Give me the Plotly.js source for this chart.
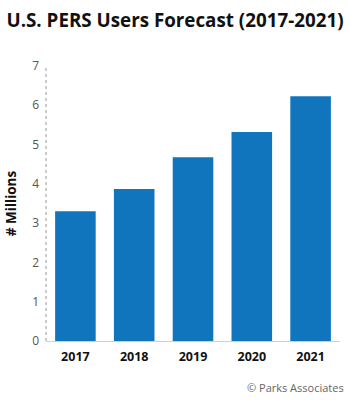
<!DOCTYPE html>
<html>
<head>
<meta charset="utf-8">
<script src="https://cdn.plot.ly/plotly-3.0.1.min.js"></script>
<style>html,body{margin:0;padding:0;background:#fff;}#chart{width:350px;height:400px;}</style>
</head>
<body>
<div id="chart"></div>
<script>
const years = ['2017', '2018', '2019', '2020', '2021'];
const users = [3.3, 3.87, 4.68, 5.32, 6.23];
const yTicks = [0, 1, 2, 3, 4, 5, 6, 7];

const trace = {
  type: 'bar',
  x: years,
  y: users,
  marker: {color: '#1175BD'},
  hoverinfo: 'x+y'
};

const layout = {
  width: 350,
  height: 400,
  margin: {l: 46, r: 10, t: 66, b: 59},
  paper_bgcolor: '#fff',
  plot_bgcolor: '#fff',
  bargap: 0.31,
  showlegend: false,
  title: {
    text: '<b>U.S. PERS Users Forecast (2017-2021)</b>',
    font: {family: 'Open Sans', size: 18.8, color: '#111'},
    x: 0.5, xanchor: 'center', xref: 'container',
    y: 0.95, yanchor: 'middle', yref: 'container'
  },
  xaxis: {
    type: 'category',
    showline: true,
    linecolor: '#d0d0d0',
    linewidth: 1,
    showgrid: false,
    ticks: '',
    tickfont: {family: 'Open Sans', size: 12.5, color: '#111', weight: 'bold'},
    ticklabelstandoff: 4
  },
  yaxis: {
    range: [0, 7],
    tickvals: yTicks,
    showgrid: false,
    zeroline: false,
    showline: false,
    ticks: '',
    tickfont: {family: 'Open Sans', size: 12, color: '#555'},
    ticklabelstandoff: 6,
    title: {
      text: '<b># Millions</b>',
      font: {family: 'Open Sans', size: 13.5, color: '#111'},
      standoff: 12
    }
  },
  shapes: [{
    type: 'line', xref: 'paper', yref: 'paper',
    x0: 0, x1: 0, y0: 0, y1: 1,
    line: {color: '#999', width: 1, dash: 'dot'}
  }],
  annotations: [{
    text: '© Parks Associates',
    xref: 'paper', yref: 'paper',
    x: 1.02, y: -0.17, xanchor: 'right', yanchor: 'middle',
    showarrow: false,
    font: {family: 'Open Sans', size: 11, color: '#666'}
  }]
};

Plotly.newPlot('chart', [trace], layout, {displayModeBar: false, staticPlot: true});
</script>
</body>
</html>
